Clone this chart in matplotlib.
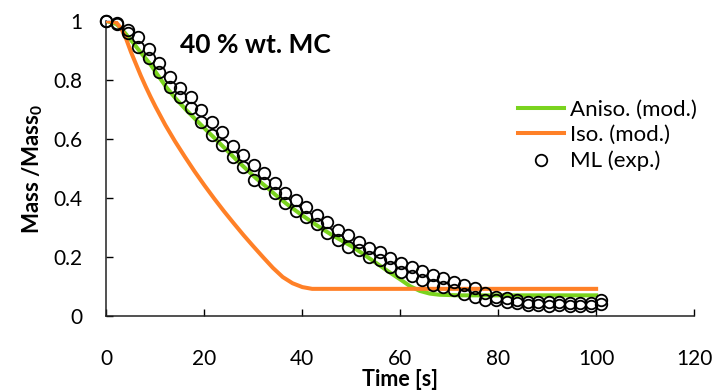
import matplotlib
matplotlib.use('Agg')
import matplotlib.pyplot as plt

plt.rcParams['font.family'] = ['Lato', 'DejaVu Sans']
plt.rcParams['mathtext.fontset'] = 'custom'
plt.rcParams['mathtext.rm'] = 'Lato'
plt.rcParams['mathtext.bf'] = 'Lato:bold'

# experimental mass loss (two rows of circles)
t_exp = [0, 2.1, 4.3, 6.4, 8.6, 10.7, 12.9, 15.0, 17.2, 19.3, 21.5, 23.6,
         25.8, 27.9, 30.1, 32.2, 34.4, 36.5, 38.7, 40.8, 43.0, 45.1, 47.3, 49.4,
         51.6, 53.7, 55.9, 58.0, 60.2, 62.3, 64.5, 66.6, 68.8, 70.9, 73.1, 75.2,
         77.4, 79.5, 81.7, 83.8, 86.0, 88.1, 90.3, 92.4, 94.6, 96.7, 98.9, 101.0]
ml_upper = [1.0, 0.993, 0.969, 0.946, 0.905, 0.858, 0.810, 0.773, 0.742, 0.698,
            0.658, 0.624, 0.576, 0.546, 0.512, 0.485, 0.451, 0.417, 0.393, 0.369,
            0.342, 0.319, 0.292, 0.275, 0.251, 0.231, 0.217, 0.197, 0.180, 0.166,
            0.153, 0.139, 0.129, 0.115, 0.105, 0.095, 0.078, 0.064, 0.061, 0.054,
            0.047, 0.046, 0.046, 0.046, 0.045, 0.045, 0.045, 0.054]
ml_lower = [1.0, 0.99, 0.959, 0.912, 0.875, 0.827, 0.776, 0.742, 0.705, 0.658,
            0.614, 0.580, 0.539, 0.505, 0.461, 0.451, 0.417, 0.383, 0.356, 0.336,
            0.312, 0.281, 0.258, 0.234, 0.224, 0.200, 0.190, 0.166, 0.149, 0.136,
            0.122, 0.105, 0.098, 0.088, 0.075, 0.064, 0.054, 0.054, 0.047, 0.044,
            0.037, 0.037, 0.034, 0.037, 0.034, 0.034, 0.034, 0.041]

# anisotropic model
t_aniso = [0, 2, 3, 4, 5.5, 7, 8.8, 10.5, 12.2, 14.2, 16.3, 18.4, 20.4, 22.5,
           24.5, 26.5, 28.6, 30.6, 32.7, 34.7, 36.8, 39.4, 42, 44, 46, 48, 50,
           52, 54, 56, 58, 60, 62, 64, 66, 68, 72, 100]
m_aniso = [1.0, 0.99, 0.975, 0.955, 0.925, 0.893, 0.857, 0.816, 0.776, 0.736,
           0.698, 0.663, 0.63, 0.596, 0.563, 0.53, 0.497, 0.466, 0.437, 0.408,
           0.38, 0.348, 0.318, 0.296, 0.275, 0.256, 0.237, 0.215, 0.192, 0.169,
           0.146, 0.124, 0.101, 0.085, 0.076, 0.072, 0.07, 0.07]

# isotropic model
t_iso = [0, 2, 3, 4, 5, 6, 7, 8, 9, 10, 12, 14, 16, 18, 20, 22, 24, 26, 28,
         30, 32, 34, 36, 38, 40, 42, 100]
m_iso = [1.0, 0.995, 0.975, 0.94, 0.895, 0.855, 0.815, 0.778, 0.743, 0.71,
         0.648, 0.592, 0.54, 0.49, 0.443, 0.398, 0.355, 0.314, 0.274, 0.236,
         0.199, 0.163, 0.132, 0.111, 0.098, 0.092, 0.092]

fig = plt.figure(figsize=(7.17, 3.92), dpi=100)
ax = fig.add_axes([0.1485, 0.1939, 0.8195, 0.7525])

ax.plot(t_aniso, m_aniso, color='#7AD31E', lw=2.9, label='Aniso. (mod.)',
        zorder=2, solid_joinstyle='round')
ax.plot(t_iso, m_iso, color='#FF8027', lw=2.9, label='Iso. (mod.)',
        zorder=3, solid_joinstyle='round')
ax.plot(t_exp, ml_upper, 'o', ms=8.3, mfc='none', mec='black', mew=1.3,
        label='ML (exp.)', zorder=4, clip_on=False)
ax.plot(t_exp, ml_lower, 'o', ms=8.3, mfc='none', mec='black', mew=1.3,
        zorder=4, clip_on=False)

ax.set_xlim(0, 120)
ax.set_ylim(0, 1)
ax.set_xticks([0, 20, 40, 60, 80, 100, 120])
ax.set_yticks([0, 0.2, 0.4, 0.6, 0.8, 1.0])
ax.set_yticklabels(['0', '0.2', '0.4', '0.6', '0.8', '1'])
ax.spines['top'].set_visible(False)
ax.spines['right'].set_visible(False)
for s in ['left', 'bottom']:
    ax.spines[s].set_linewidth(1.1)
    ax.spines[s].set_color('#222222')
ax.tick_params(direction='in', length=5, width=1, labelsize=15)
ax.tick_params(axis='y', pad=17)
ax.tick_params(axis='x', pad=24)

ax.set_xlabel('Time [s]', fontsize=15.5, fontweight='bold', labelpad=0)
ax.set_ylabel(r'Mass /Mass$_\mathbf{0}$', fontsize=16, fontweight='bold', labelpad=6)
ax.text(15, 0.918, '40 % wt. MC', fontsize=19, fontweight='bold', va='center')

leg = ax.legend(loc='center left', bbox_to_anchor=(0.70, 0.612), frameon=False,
                fontsize=16, handlelength=2.1, handletextpad=0.25,
                labelspacing=0.25, borderpad=0, borderaxespad=0)

fig.savefig('out.png', dpi=100)
